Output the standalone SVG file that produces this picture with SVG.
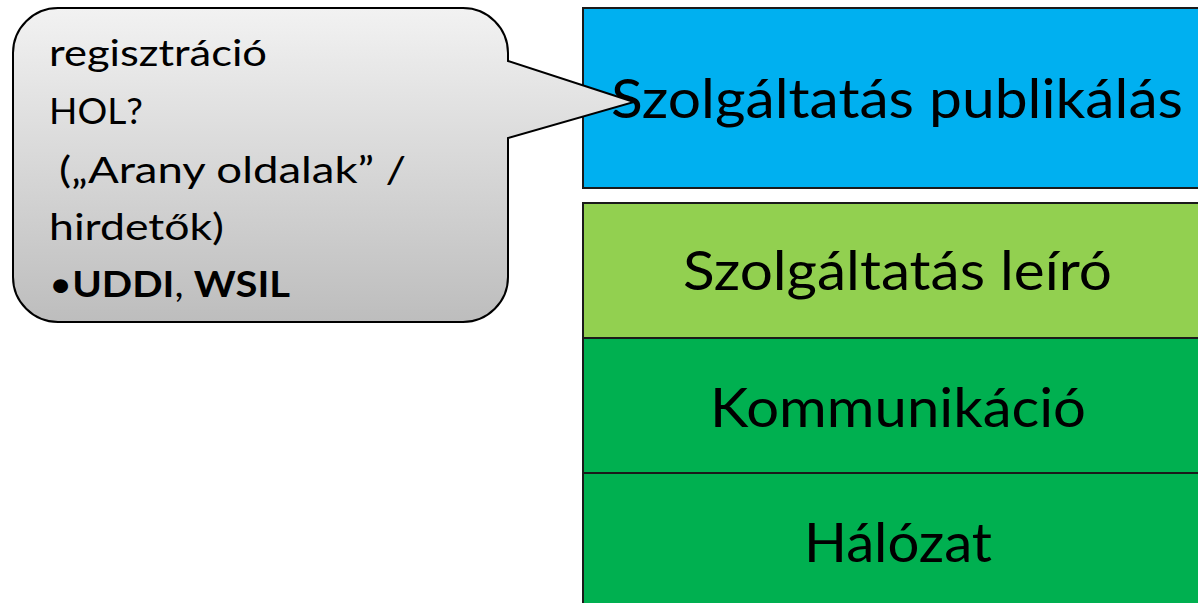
<svg xmlns="http://www.w3.org/2000/svg" width="1198" height="603" viewBox="0 0 1198 603">
  <defs>
    <linearGradient id="bubbleFill" x1="0" y1="0" x2="0" y2="1">
      <stop offset="0" stop-color="#f2f2f2"/>
      <stop offset="1" stop-color="#bdbdbd"/>
    </linearGradient>
    <style>
      .layer { stroke: #1a1a1a; stroke-width: 2; }
      .layer-label { font-family: Lato, "Open Sans", "Liberation Sans", sans-serif; font-size: 55px; fill: #000; }
      .bubble { fill: url(#bubbleFill); stroke: #000; stroke-width: 2; stroke-linejoin: miter; }
      .note { font-family: Lato, "Open Sans", "Liberation Sans", sans-serif; font-size: 37px; fill: #000; }
      .bold { font-weight: bold; }
    </style>
  </defs>

  <rect width="1198" height="603" fill="#ffffff"/>

  <!-- protocol stack layers -->
  <g id="layer-publish">
    <rect class="layer" x="583" y="8" width="640" height="180" fill="#00b0f0"/>
    <text class="layer-label" x="611" y="118" textLength="572" lengthAdjust="spacingAndGlyphs">Szolgáltatás publikálás</text>
  </g>
  <g id="layer-describe">
    <rect class="layer" x="583" y="203" width="640" height="135" fill="#92d050"/>
    <text class="layer-label" x="683" y="290" textLength="429" lengthAdjust="spacingAndGlyphs">Szolgáltatás leíró</text>
  </g>
  <g id="layer-communication">
    <rect class="layer" x="583" y="338" width="640" height="135" fill="#00b050"/>
    <text class="layer-label" x="710" y="427" textLength="376" lengthAdjust="spacingAndGlyphs">Kommunikáció</text>
  </g>
  <g id="layer-network">
    <rect class="layer" x="583" y="473" width="640" height="140" fill="#00b050"/>
    <text class="layer-label" x="804" y="562" textLength="188" lengthAdjust="spacingAndGlyphs">Hálózat</text>
  </g>

  <!-- callout pointing at the publishing layer -->
  <g id="callout-registry">
    <path class="bubble" d="M58,8 H463 A45,45 0 0 1 508,53 V61 L634,102 L508,138 V277 A45,45 0 0 1 463,322 H58 A45,45 0 0 1 13,277 V53 A45,45 0 0 1 58,8 Z"/>
    <text class="note" x="49" y="66" textLength="218" lengthAdjust="spacingAndGlyphs">regisztráció</text>
    <text class="note" x="49" y="124" textLength="94" lengthAdjust="spacingAndGlyphs">HOL?</text>
    <text class="note" x="59" y="183" textLength="347" lengthAdjust="spacingAndGlyphs">(„Arany oldalak” /</text>
    <text class="note" x="49" y="240" textLength="175" lengthAdjust="spacingAndGlyphs">hirdetők)</text>
    <text class="note" x="49" y="297" textLength="241" lengthAdjust="spacingAndGlyphs">•<tspan class="bold">UDDI</tspan>, <tspan class="bold">WSIL</tspan></text>
  </g>
</svg>
